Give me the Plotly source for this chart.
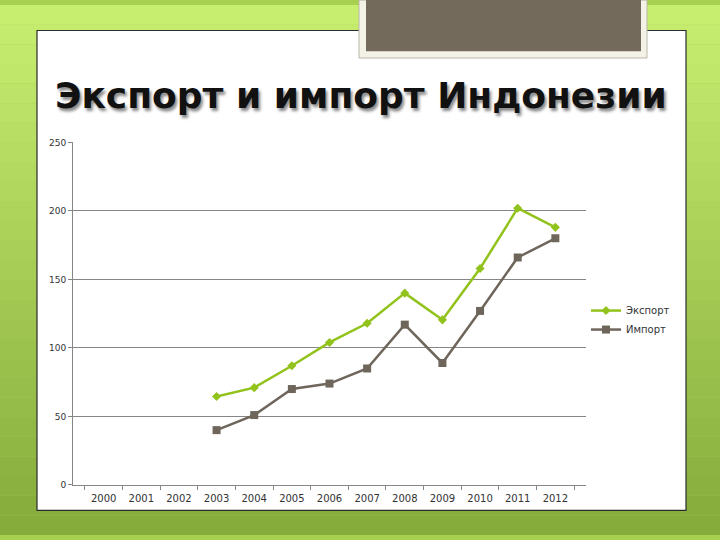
import plotly.graph_objects as go

# chart data
years = ["2000", "2001", "2002", "2003", "2004", "2005", "2006",
         "2007", "2008", "2009", "2010", "2011", "2012"]
export_vals = [None, None, None, 64.5, 71, 87, 104, 118, 140, 120.5, 158, 202, 188]
import_vals = [None, None, None, 40, 51, 70, 74, 85, 117, 89, 127, 166, 180]

W, H = 720, 540


def px(x):
    return x / W


def py(y):
    return 1 - y / H


fig = go.Figure()

fig.add_trace(go.Scatter(
    x=years, y=export_vals, name="Экспорт", mode="lines+markers",
    line=dict(color="#92c21c", width=2.5),
    marker=dict(symbol="diamond", size=7, color="#92c21c"),
))
fig.add_trace(go.Scatter(
    x=years, y=import_vals, name="Импорт", mode="lines+markers",
    line=dict(color="#6e665b", width=2.5),
    marker=dict(symbol="square", size=8, color="#6e665b"),
))

# green slide background, drawn as stacked bands for a soft gradient
shapes = []
top_c = (200, 238, 112)
bot_c = (134, 172, 60)
n = 27
for i in range(n):
    t = i / (n - 1)
    c = tuple(int(top_c[k] + (bot_c[k] - top_c[k]) * t) for k in range(3))
    shapes.append(dict(type="rect", xref="paper", yref="paper",
                       x0=0, x1=1, y0=1 - (i + 1) / n, y1=1 - i / n,
                       fillcolor="rgb(%d,%d,%d)" % c, line=dict(width=0), layer="below"))

# white panel with thin dark frame
shapes.append(dict(type="rect", xref="paper", yref="paper",
                   x0=px(37), x1=px(686), y0=py(515), y1=py(26),
                   fillcolor="white", line=dict(color="#2b2b2b", width=1.2), layer="below"))
# dark tab at the top
shapes.append(dict(type="rect", xref="paper", yref="paper",
                   x0=px(359), x1=px(647), y0=py(54), y1=py(-5),
                   fillcolor="#f4f2e6", line=dict(color="#b8b6a8", width=1), layer="below"))
shapes.append(dict(type="rect", xref="paper", yref="paper",
                   x0=px(366), x1=px(641), y0=py(47), y1=py(-5),
                   fillcolor="#736a5c", line=dict(width=0), layer="below"))

fig.update_layout(
    width=W, height=H,
    margin=dict(l=0, r=0, t=0, b=0),
    paper_bgcolor="#a8d050",
    plot_bgcolor="rgba(0,0,0,0)",
    shapes=shapes,
    font=dict(family="DejaVu Sans", size=9, color="#333333"),
    showlegend=True,
    legend=dict(x=px(586), y=py(321), xanchor="left", yanchor="middle",
                bgcolor="rgba(0,0,0,0)", font=dict(size=10, color="#333333"),
                itemwidth=30, tracegroupgap=0),
    annotations=[dict(
        text="<b>Экспорт и импорт Индонезии</b>",
        xref="paper", yref="paper", x=px(361), y=py(92),
        xanchor="center", yanchor="middle", showarrow=False,
        font=dict(family="DejaVu Sans", size=36, color="#111111",
                  shadow="2px 3px 3px #8a8a8a"),
    )],
    xaxis=dict(
        domain=[px(73), px(586)],
        type="category", tickson="boundaries",
        ticks="outside", ticklen=4, tickcolor="#868686",
        showline=True, linecolor="#868686", linewidth=1,
        showgrid=False, zeroline=False,
        ticklabelstandoff=4,
        tickfont=dict(size=10, color="#333333"),
    ),
    yaxis=dict(
        domain=[py(489), py(140)],
        range=[0, 250], tickvals=[0, 50, 100, 150, 200, 250],
        ticks="outside", ticklen=4, tickcolor="#868686",
        showline=True, linecolor="#868686", linewidth=1,
        showgrid=True, gridcolor="#868686", gridwidth=1,
        zeroline=False,
        tickfont=dict(size=9, color="#333333"),
    ),
)

# drop the page's default body margin so the figure sits at the window corner
fig.write_html("out.html", config={"displayModeBar": False},
               post_script="document.body.style.margin = '0';")
